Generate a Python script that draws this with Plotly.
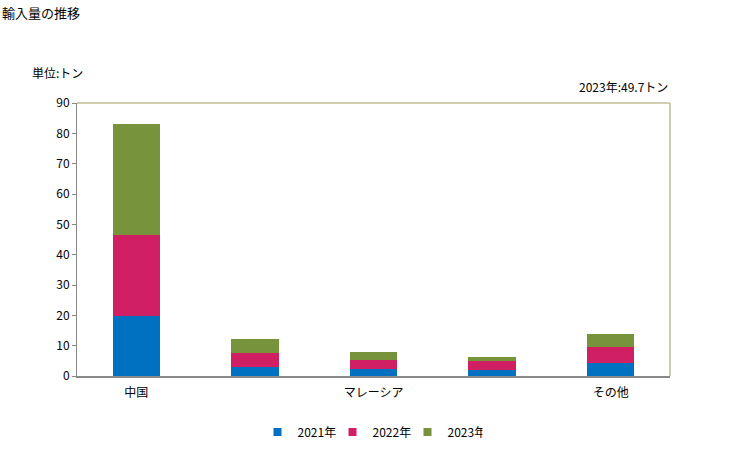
import plotly.graph_objects as go

categories = ["中国", "", "マレーシア", "", "その他"]
years = ["2021年", "2022年", "2023年"]
v2021 = [19.8, 3.0, 2.3, 2.1, 4.3]
v2022 = [26.7, 4.6, 3.0, 2.8, 5.2]
v2023 = [36.7, 4.6, 2.6, 1.5, 4.3]
colors = ["#0070C0", "#D01F62", "#77933C"]
yticks = list(range(0, 91, 10))

font = "Noto Sans CJK JP, Arial, sans-serif"
x = list(range(len(categories)))

fig = go.Figure()
for name, vals, c in zip(years, [v2021, v2022, v2023], colors):
    fig.add_trace(go.Bar(x=x, y=vals, name=name, marker=dict(color=c, line=dict(width=0)),
                         width=0.4, showlegend=False))
# legend entries with small square markers
for name, c in zip(years, colors):
    fig.add_trace(go.Scatter(x=[None], y=[None], mode="markers", name=name,
                             marker=dict(symbol="square", size=8, color=c)))

fig.update_layout(
    barmode="stack",
    width=729, height=450,
    margin=dict(l=77, r=59, t=103, b=74, autoexpand=False),
    paper_bgcolor="white", plot_bgcolor="white",
    font=dict(family=font, size=12, color="#000"),
    showlegend=True,
    legend=dict(orientation="h", x=370 / 729, xanchor="center", xref="container",
                y=1 - 432 / 450, yanchor="middle", yref="container",
                font=dict(size=12), itemwidth=30, tracegroupgap=0, traceorder="normal",
                entrywidth=30, entrywidthmode="pixels"),
    xaxis=dict(range=[-0.5, 4.5], tickmode="array", tickvals=[i for i, c in enumerate(categories) if c],
               ticktext=[c for c in categories if c], showline=True, linecolor="#888", linewidth=2,
               ticks="outside", ticklen=5, tickcolor="rgba(0,0,0,0)", showgrid=False, zeroline=False,
               tickfont=dict(size=12)),
    yaxis=dict(range=[0, 90], tickmode="array", tickvals=yticks, showline=True, linecolor="#888",
               linewidth=1, ticks="outside", ticklen=4, tickcolor="#888", showgrid=False, zeroline=False,
               tickfont=dict(size=12)),
    shapes=[
        dict(type="line", xref="paper", yref="paper", x0=0, x1=1, y0=1, y1=1, line=dict(color="#C4BC96", width=1.5)),
        dict(type="line", xref="paper", yref="paper", x0=1, x1=1, y0=0, y1=1, line=dict(color="#C4BC96", width=1.5)),
    ],
    annotations=[
        dict(text="輸入量の推移", xref="paper", yref="paper", x=-77/593, y=1 + 91/273, xanchor="left", yanchor="middle",
             showarrow=False, font=dict(size=13)),
        dict(text="単位:トン", xref="paper", yref="paper", x=-47/593, y=1 + 30/273, xanchor="left", yanchor="middle",
             showarrow=False, font=dict(size=12)),
        dict(text="2023年:49.7トン", xref="paper", yref="paper", x=1, y=1 + 17/273, xanchor="right", yanchor="middle",
             showarrow=False, font=dict(size=12)),
    ],
)

fig.write_html("out.html")
